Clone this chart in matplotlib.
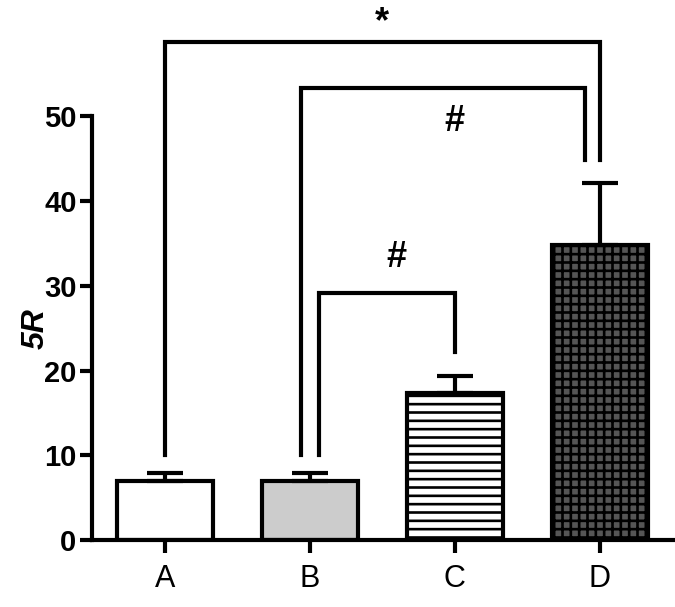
import matplotlib
matplotlib.use("Agg")
import matplotlib.pyplot as plt

categories = ["A", "B", "C", "D"]
means = [7.0, 7.0, 17.4, 34.8]
errors = [0.9, 0.9, 1.9, 7.3]
yticks = [0, 10, 20, 30, 40, 50]

plt.rcParams['font.family'] = ['Liberation Sans Narrow', 'Liberation Sans', 'DejaVu Sans']
plt.rcParams['hatch.linewidth'] = 1.9

fig = plt.figure(figsize=(6.75, 6.07), dpi=100)
ax = fig.add_axes([0.136, 0.110, 0.864, 0.699])

x = list(range(len(categories)))
faces = ["white", "#cccccc", "white", "#555555"]
hatches = [None, None, "--", "++"]
lw = 3.0
for xi, m, e, fc, h in zip(x, means, errors, faces, hatches):
    ax.bar(xi, m, width=0.66, facecolor=fc, edgecolor="black", linewidth=lw,
           hatch=h, zorder=2)
    ax.errorbar(xi, m, yerr=[[0], [e]], fmt="none", ecolor="black",
                elinewidth=lw, capsize=13, capthick=lw, zorder=3)

ax.set_xlim(-0.503, 3.517)
ax.set_ylim(0, 50)
ax.set_xticks(x)
ax.set_xticklabels(categories, fontsize=22)
ax.set_yticks(yticks)
ax.set_yticklabels([str(t) for t in yticks], fontsize=21, fontweight="bold")
ax.set_ylabel("5R", fontsize=23, fontweight="bold", fontstyle="italic")
ax.yaxis.set_label_coords(-0.07, 0.5)

for s in ["top", "right"]:
    ax.spines[s].set_visible(False)
for s in ["left", "bottom"]:
    ax.spines[s].set_linewidth(lw)
ax.tick_params(axis="both", width=lw, length=9, direction="out")
ax.tick_params(axis="x", pad=8)
ax.tick_params(axis="y", pad=2)

# significance brackets
def bracket(x1, x2, y, y1, y2, label, ly, lx):
    ax.plot([x1, x1, x2, x2], [y1, y, y, y2], color="black", lw=lw,
            clip_on=False, solid_joinstyle="miter", zorder=4)
    ax.text(lx, ly, label, ha="center", va="center", fontsize=26,
            fontweight="bold", clip_on=False)

bracket(0.0, 3.0, 58.7, 10.0, 44.8, "*", 61.0, 1.5)
bracket(0.94, 2.9, 53.3, 10.0, 44.8, "#", 49.4, 2.0)
bracket(1.06, 2.0, 29.1, 10.0, 22.2, "#", 33.3, 1.6)

fig.savefig("out.png", dpi=100)
